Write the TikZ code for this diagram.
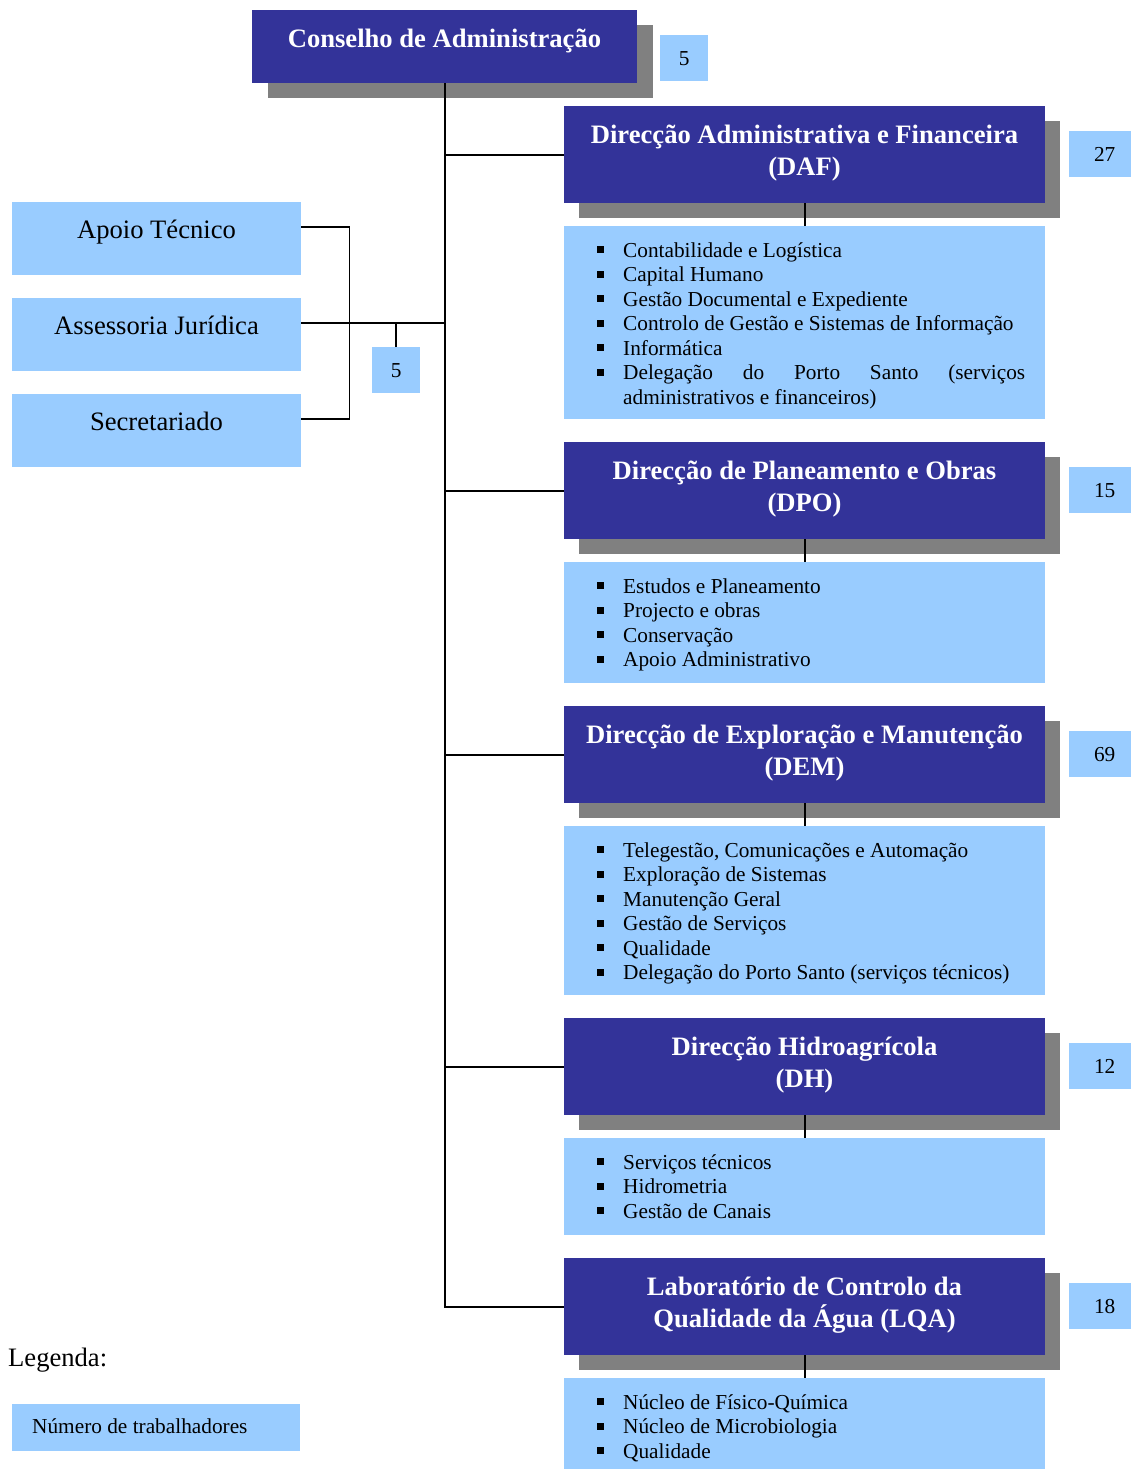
\documentclass[tikz,border=0pt]{standalone}
\usepackage{fontspec}
\setmainfont{Liberation Serif}
\definecolor{dblue}{RGB}{51,51,153}
\definecolor{lblue}{RGB}{153,204,255}
\definecolor{sgray}{RGB}{128,128,128}
\newcommand\bul{\rule[4pt]{7pt}{7pt}}
\newcommand\listitems[3]{%
  \foreach \t [count=\i] in {#3} {
    \node[itm] (#1b\i) at (597,{#2+24.5*(\i-1)}) {\bul};
    \node[itm] (#1t\i) at (623,{#2+24.5*(\i-1)}) {\t};
  }}
\begin{document}
\begin{tikzpicture}[x=1pt,y=-1pt,
  hdr/.style={fill=dblue, anchor=north west, inner sep=0pt, minimum width=481pt, minimum height=97pt},
  lbox/.style={fill=lblue, anchor=north west, inner sep=0pt, minimum width=481pt},
  sbox/.style={fill=lblue, anchor=north west, inner sep=0pt, minimum width=289pt, minimum height=73pt},
  ttl/.style={anchor=base, text=white, font=\fontsize{26.6}{32}\selectfont\bfseries, inner sep=0pt},
  big/.style={anchor=base, font=\fontsize{26.6}{32}\selectfont, inner sep=0pt},
  itm/.style={anchor=base west, font=\fontsize{21.3}{24.5}\selectfont, inner sep=0pt},
  num/.style={fill=lblue, anchor=north west, inner sep=0pt, minimum width=71pt, minimum height=46pt, font=\fontsize{21.3}{24}\selectfont},
  conn/.style={line width=1.8pt}
]
\useasboundingbox (0,0) rectangle (1130,1470);

% ---------- Conselho ----------
\fill[sgray] (268,25) rectangle (653,98);
\node[hdr, minimum width=385pt, minimum height=73pt] (cons) at (252,10) {};
\node[ttl] (consT) at (444.5,47) {Conselho de Administração};
\node[num, minimum width=48pt] (consN) at (660,35) {5};

% ---------- Left boxes ----------
\node[sbox] (apoio) at (12,202) {};
\node[big] (apoioT) at (156.5,238.5) {Apoio Técnico};
\node[sbox] (ass) at (12,298) {};
\node[big] (assT) at (156.5,334.5) {Assessoria Jurídica};
\node[sbox] (secr) at (12,394) {};
\node[big] (secrT) at (156.5,430.5) {Secretariado};
\node[num, minimum width=48pt] (assN) at (372,347) {5};

% ---------- DAF ----------
\fill[sgray] (579,121) rectangle (1060,218);
\node[hdr] (daf) at (564,106) {};
\node[ttl] (dafT1) at (804.5,143) {Direcção Administrativa e Financeira};
\node[ttl] (dafT2) at (804.5,175) {(DAF)};
\node[num] (dafN) at (1069,131) {27};
\node[lbox, minimum height=193pt] (dafL) at (564,226) {};
\listitems{daf}{257}{Contabilidade e Logística, Capital Humano, Gestão Documental e Expediente, Controlo de Gestão e Sistemas de Informação, Informática}
\node[itm] (dafb6) at (597,379.5) {\bul};
\node[itm] (daft6) at (623,379.5) {\makebox[402pt][s]{Delegação\hfill do\hfill Porto\hfill Santo\hfill (serviços}};
\node[itm] (daft7) at (623,404) {administrativos e financeiros)};

% ---------- DPO ----------
\fill[sgray] (579,457) rectangle (1060,554);
\node[hdr] (dpo) at (564,442) {};
\node[ttl] (dpoT1) at (804.5,479) {Direcção de Planeamento e Obras};
\node[ttl] (dpoT2) at (804.5,511) {(DPO)};
\node[num] (dpoN) at (1069,467) {15};
\node[lbox, minimum height=121pt] (dpoL) at (564,562) {};
\listitems{dpo}{593}{Estudos e Planeamento, Projecto e obras, Conservação, Apoio Administrativo}

% ---------- DEM ----------
\fill[sgray] (579,721) rectangle (1060,818);
\node[hdr] (dem) at (564,706) {};
\node[ttl] (demT1) at (804.5,743) {Direcção de Exploração e Manutenção};
\node[ttl] (demT2) at (804.5,775) {(DEM)};
\node[num] (demN) at (1069,731) {69};
\node[lbox, minimum height=169pt] (demL) at (564,826) {};
\listitems{dem}{857}{{Telegestão, Comunicações e Automação}, Exploração de Sistemas, Manutenção Geral, Gestão de Serviços, Qualidade, Delegação do Porto Santo (serviços técnicos)}

% ---------- DH ----------
\fill[sgray] (579,1033) rectangle (1060,1130);
\node[hdr] (dh) at (564,1018) {};
\node[ttl] (dhT1) at (804.5,1055) {Direcção Hidroagrícola};
\node[ttl] (dhT2) at (804.5,1087) {(DH)};
\node[num] (dhN) at (1069,1043) {12};
\node[lbox, minimum height=97pt] (dhL) at (564,1138) {};
\listitems{dh}{1169}{Serviços técnicos, Hidrometria, Gestão de Canais}

% ---------- LQA ----------
\fill[sgray] (579,1273) rectangle (1060,1370);
\node[hdr] (lqa) at (564,1258) {};
\node[ttl] (lqaT1) at (804.5,1295) {Laboratório de Controlo da};
\node[ttl] (lqaT2) at (804.5,1327) {Qualidade da Água (LQA)};
\node[num] (lqaN) at (1069,1283) {18};
\node[lbox, minimum height=91pt] (lqaL) at (564,1378) {};
\listitems{lqa}{1409}{Núcleo de Físico-Química, Núcleo de Microbiologia, Qualidade}

% ---------- Legend ----------
\node[big, anchor=base west] (leg) at (8,1366) {Legenda:};
\node[sbox, minimum width=288pt, minimum height=47pt] (legB) at (12,1404) {};
\node[itm] (legT) at (32,1433) {Número de trabalhadores};

% ---------- Connectors ----------
\draw[conn] (cons.south) -- (cons.south |- lqa.west) -- (lqa.west);
\foreach \n in {daf,dpo,dem,dh} {
  \draw[conn] (cons.south |- \n.west) -- (\n.west);
  \draw[conn] (\n.south) -- (\n L.north);
}
\draw[conn] (lqa.south) -- (lqaL.north);
\coordinate (aj) at ([yshift=12pt]ass.east);
\draw[conn] ([yshift=12pt]apoio.east) -- ++(48,0) |- ([yshift=12pt]secr.east);
\draw[conn] (aj) -- (aj -| cons.south);
\draw[conn] (assN.north) -- (assN.north |- aj);
\end{tikzpicture}
\end{document}
